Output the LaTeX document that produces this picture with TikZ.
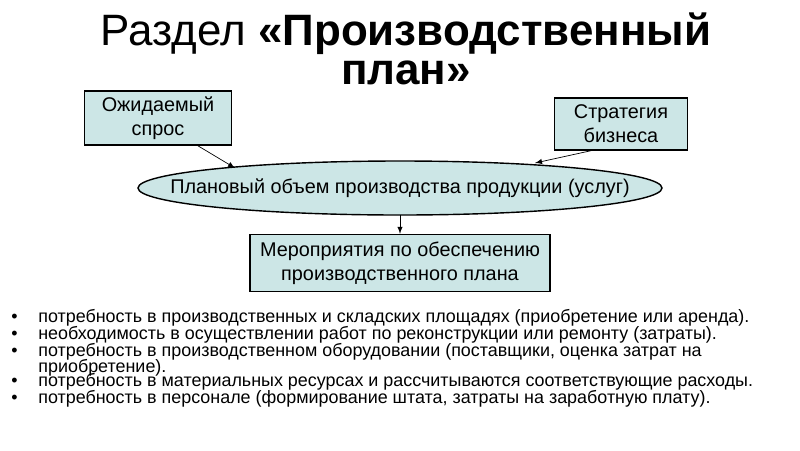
\documentclass[tikz,border=0pt]{standalone}
\usepackage{fontspec}
\setmainfont{Liberation Sans}
\definecolor{boxfill}{RGB}{204,230,230}
\tikzset{
  planbox/.style={draw,thick,fill=boxfill,align=center,font=\fontsize{11.3}{13.5}\selectfont},
  point/.style={anchor=base west,font=\fontsize{10.2}{9.6}\selectfont,inner sep=0pt},
  titletext/.style={inner sep=0pt,font=\fontsize{25}{28}\selectfont}
}
\begin{document}
\begin{tikzpicture}[x=0.02cm,y=-0.02cm]
	\useasboundingbox (0,0) rectangle (800,450);
	%TITLE
	\node[titletext,anchor=base] (title1) at (406,45) {Раздел \textbf{«Производственный}};
	\node[titletext,anchor=base] (title2) at (406,84) {\textbf{план»}};
	%BOXES
	\node[planbox,minimum width=147*0.02cm,minimum height=50*0.02cm] (spros) at (158,118) {Ожидаемый\\спрос};
	\node[planbox,minimum width=133*0.02cm,minimum height=52*0.02cm] (strat) at (621,124) {Стратегия\\бизнеса};
	\draw[planbox] (400,188) ellipse (262 and 27);
	\node[font=\fontsize{11.3}{13.5}\selectfont] (obem) at (400,188) {Плановый объем производства продукции (услуг)};
	\coordinate (obemS) at (400,215);
	\node[planbox,minimum width=300*0.02cm,minimum height=57*0.02cm] (mer) at (400,263) {Мероприятия по обеспечению\\производственного плана};
	\draw[-latex] (spros.south) ++(40,0) coordinate (s1) -- (235,168) coordinate (s2);
	\draw[-latex] (strat.south) ++(-30,0) coordinate (t1) -- (535,163) coordinate (t2);
	\draw[-latex] (obemS) -- (mer.north);
	%BULLETS
	\foreach \yy/\bul/\txt [count=\i] in {
		322/•/{потребность в производственных и складских площадях (приобретение или аренда).},
		339/•/{необходимость в осуществлении работ по реконструкции или ремонту (затраты).},
		356/•/{потребность в производственном оборудовании (поставщики, оценка затрат на},
		372/{}/{приобретение).},
		386/•/{потребность в материальных ресурсах и рассчитываются соответствующие расходы.},
		403/•/{потребность в персонале (формирование штата, затраты на заработную плату).}}
	{
		\node[point] (b\i) at (11,\yy) {\bul};
		\node[point] (p\i) at (38,\yy) {\txt};
	}
\end{tikzpicture}
\end{document}
